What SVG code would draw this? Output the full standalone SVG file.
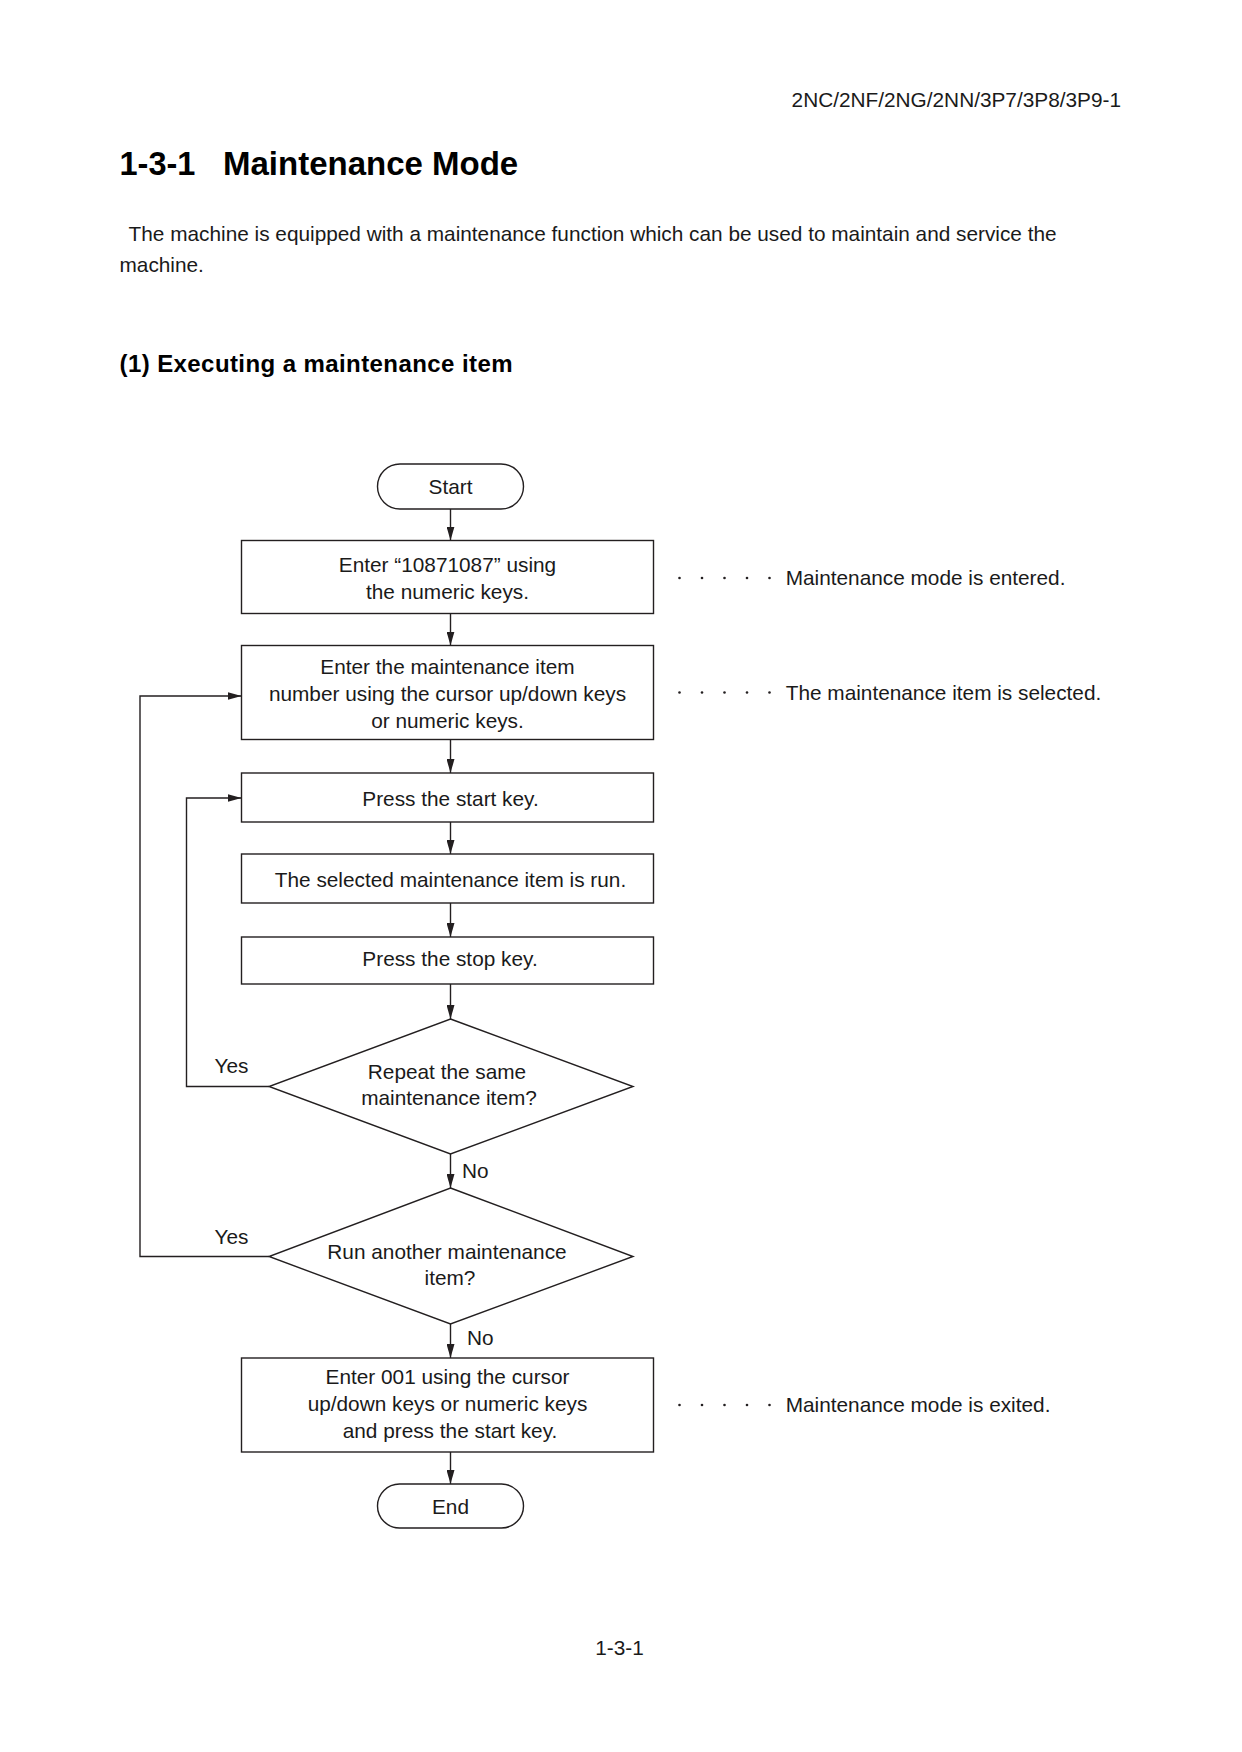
<svg xmlns="http://www.w3.org/2000/svg" width="1242" height="1752" viewBox="0 0 1242 1752">
<defs>
<style>
text{font-family:"Liberation Sans",Arial,Helvetica,sans-serif;fill:#1a1a1a;font-size:20.8px}
.c{text-anchor:middle}
.b{font-weight:bold;fill:#000}
.shape{fill:#fff;stroke:#231f20;stroke-width:1.4}
.ln{fill:none;stroke:#231f20;stroke-width:1.4}
.dot{fill:#231f20}
</style>
<marker id="ah" viewBox="0 0 14 8" refX="14" refY="4" markerWidth="14" markerHeight="8" markerUnits="userSpaceOnUse" orient="auto">
<path d="M0,0 L14,4 L0,8 Z" fill="#231f20"/>
</marker>
</defs>
<rect x="0" y="0" width="1242" height="1752" fill="#fff"/>

<g id="page-text">
<text x="1121" y="107" text-anchor="end">2NC/2NF/2NG/2NN/3P7/3P8/3P9-1</text>
<text class="b" x="119.5" y="175" style="font-size:32.5px">1-3-1</text>
<text class="b" x="223" y="175" style="font-size:33px">Maintenance Mode</text>
<text x="128.6" y="241" textLength="928">The machine is equipped with a maintenance function which can be used to maintain and service the</text>
<text x="119.5" y="272">machine.</text>
<text class="b" x="119.5" y="372" style="font-size:24px" textLength="393">(1) Executing a maintenance item</text>
<text x="619.5" y="1655" class="c">1-3-1</text>
</g>

<g id="connectors">
<line class="ln" x1="450.5" y1="509" x2="450.5" y2="540.5" marker-end="url(#ah)"/>
<line class="ln" x1="450.5" y1="613.5" x2="450.5" y2="645.5" marker-end="url(#ah)"/>
<line class="ln" x1="450.5" y1="739.5" x2="450.5" y2="773" marker-end="url(#ah)"/>
<line class="ln" x1="450.5" y1="822" x2="450.5" y2="854" marker-end="url(#ah)"/>
<line class="ln" x1="450.5" y1="903" x2="450.5" y2="937" marker-end="url(#ah)"/>
<line class="ln" x1="450.5" y1="984" x2="450.5" y2="1019" marker-end="url(#ah)"/>
<line class="ln" x1="450.5" y1="1154" x2="450.5" y2="1188" marker-end="url(#ah)"/>
<line class="ln" x1="450.5" y1="1324" x2="450.5" y2="1358" marker-end="url(#ah)"/>
<line class="ln" x1="450.5" y1="1452" x2="450.5" y2="1484" marker-end="url(#ah)"/>
<polyline class="ln" points="269,1086.5 186.5,1086.5 186.5,798 241.5,798" marker-end="url(#ah)"/>
<polyline class="ln" points="269,1256.5 140,1256.5 140,696 241.5,696" marker-end="url(#ah)"/>
<text x="214.5" y="1073">Yes</text>
<text x="214.5" y="1244">Yes</text>
<text x="462" y="1178">No</text>
<text x="467" y="1345">No</text>
</g>

<g id="start">
<rect class="shape" x="377.5" y="464" width="146" height="45" rx="22.5" ry="22.5"/>
<text class="c" x="450.5" y="494">Start</text>
</g>

<g id="enter-code">
<rect class="shape" x="241.5" y="540.5" width="412" height="73"/>
<text class="c" x="447.5" y="572">Enter “10871087” using</text>
<text class="c" x="447.5" y="598.5">the numeric keys.</text>
</g>

<g id="select-item">
<rect class="shape" x="241.5" y="645.5" width="412" height="94"/>
<text class="c" x="447.5" y="673.5">Enter the maintenance item</text>
<text class="c" x="447.5" y="700.5">number using the cursor up/down keys</text>
<text class="c" x="447.5" y="727.5">or numeric keys.</text>
</g>

<g id="press-start">
<rect class="shape" x="241.5" y="773" width="412" height="49"/>
<text class="c" x="450.5" y="806">Press the start key.</text>
</g>

<g id="run-item">
<rect class="shape" x="241.5" y="854" width="412" height="49"/>
<text class="c" x="450.5" y="887">The selected maintenance item is run.</text>
</g>

<g id="press-stop">
<rect class="shape" x="241.5" y="937" width="412" height="47"/>
<text class="c" x="450" y="966">Press the stop key.</text>
</g>

<g id="repeat-decision">
<polygon class="shape" points="450.5,1019 633,1086.5 450.5,1154 269,1086.5"/>
<text class="c" x="447" y="1078.5">Repeat the same</text>
<text class="c" x="449" y="1105">maintenance item?</text>
</g>

<g id="another-decision">
<polygon class="shape" points="450.5,1188 633,1256.5 450.5,1324 269,1256.5"/>
<text class="c" x="447" y="1258.5">Run another maintenance</text>
<text class="c" x="450" y="1285">item?</text>
</g>

<g id="exit-mode">
<rect class="shape" x="241.5" y="1358" width="412" height="94"/>
<text class="c" x="447.5" y="1384">Enter 001 using the cursor</text>
<text class="c" x="447.5" y="1411">up/down keys or numeric keys</text>
<text class="c" x="450" y="1438">and press the start key.</text>
</g>

<g id="end">
<rect class="shape" x="377.5" y="1484" width="146" height="44" rx="22" ry="22"/>
<text class="c" x="450.5" y="1514">End</text>
</g>

<g id="note-entered">
<g class="dot"><circle cx="679.5" cy="578" r="1.3"/><circle cx="702" cy="578" r="1.3"/><circle cx="724.5" cy="578" r="1.3"/><circle cx="747" cy="578" r="1.3"/><circle cx="769.5" cy="578" r="1.3"/></g>
<text x="785.7" y="585">Maintenance mode is entered.</text>
</g>

<g id="note-selected">
<g class="dot"><circle cx="679.5" cy="692.5" r="1.3"/><circle cx="702" cy="692.5" r="1.3"/><circle cx="724.5" cy="692.5" r="1.3"/><circle cx="747" cy="692.5" r="1.3"/><circle cx="769.5" cy="692.5" r="1.3"/></g>
<text x="785.7" y="699.5">The maintenance item is selected.</text>
</g>

<g id="note-exited">
<g class="dot"><circle cx="679.5" cy="1405" r="1.3"/><circle cx="702" cy="1405" r="1.3"/><circle cx="724.5" cy="1405" r="1.3"/><circle cx="747" cy="1405" r="1.3"/><circle cx="769.5" cy="1405" r="1.3"/></g>
<text x="785.7" y="1412">Maintenance mode is exited.</text>
</g>
</svg>
